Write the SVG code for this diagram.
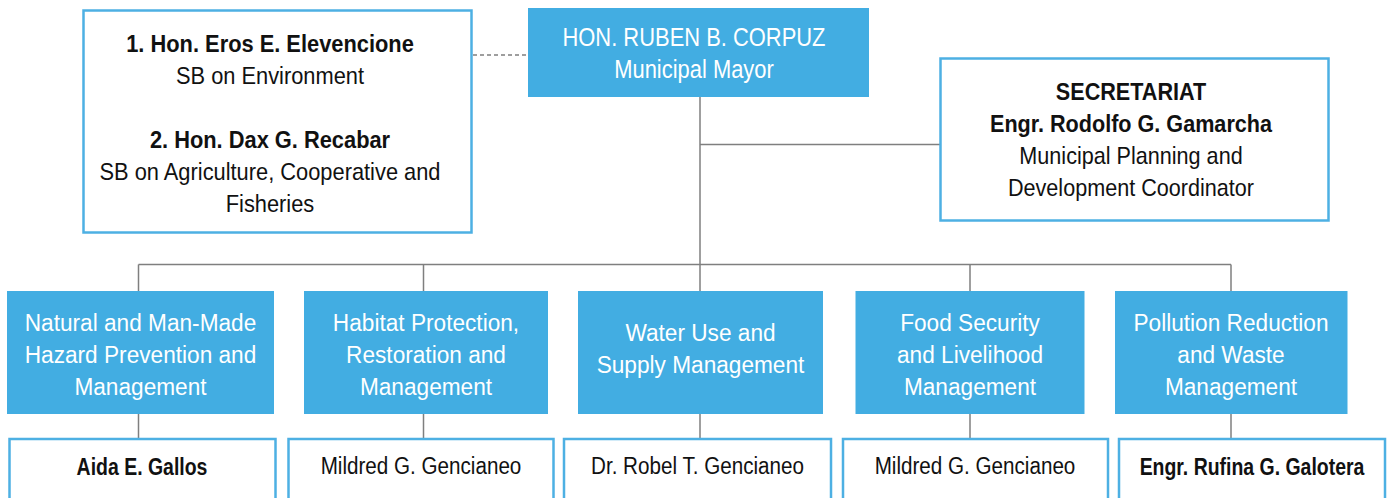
<svg xmlns="http://www.w3.org/2000/svg" width="1388" height="498" viewBox="0 0 1388 498">
<style>
text{font-family:"Liberation Sans",Arial,sans-serif;text-anchor:middle}
.fill{fill:#42ADE2}
.outline{fill:#FFFFFF;stroke:#4DB0E3;stroke-width:2.5}
.w{fill:#FFFFFF}
.k{fill:#111111}
.b{font-weight:bold}
.sm{font-size:25.5px}
.st{font-size:24px}
.sc{font-size:24.5px}
.sb{font-size:23.3px}
.conn line{stroke:#7F7F7F;stroke-width:1.5;fill:none}
.conn .dash{stroke-dasharray:4 3}
</style>
<rect width="1388" height="498" fill="#FFFFFF"/>
<g class="conn" id="connectors">
<line class="dash" x1="473" y1="55" x2="528" y2="55"/>
<line x1="700" y1="97" x2="700" y2="291"/>
<line x1="700" y1="144.5" x2="940" y2="144.5"/>
<line x1="138.5" y1="264.5" x2="1231" y2="264.5"/>
<line x1="138.5" y1="264.5" x2="138.5" y2="291"/>
<line x1="423.5" y1="264.5" x2="423.5" y2="291"/>
<line x1="970" y1="264.5" x2="970" y2="291"/>
<line x1="1231" y1="264.5" x2="1231" y2="291"/>
<line x1="138.5" y1="414" x2="138.5" y2="438"/>
<line x1="423.5" y1="414" x2="423.5" y2="438"/>
<line x1="700" y1="414" x2="700" y2="438"/>
<line x1="970" y1="414" x2="970" y2="438"/>
<line x1="1231" y1="414" x2="1231" y2="438"/>
</g>
<g id="mayor">
<rect class="fill" x="528" y="8" width="341" height="89"/>
<text class="w sm" transform="translate(694 45.5) scale(0.86 1)">HON. RUBEN B. CORPUZ</text>
<text class="w sm" transform="translate(694 77.5) scale(0.86 1)">Municipal Mayor</text>
</g>
<g id="sb-members">
<rect class="outline" x="83.5" y="10.5" width="388" height="222"/>
<text class="k st b" transform="translate(270 51.5) scale(0.91 1)">1. Hon. Eros E. Elevencione</text>
<text class="k st" transform="translate(270 84) scale(0.91 1)">SB on Environment</text>
<text class="k st b" transform="translate(270 148) scale(0.91 1)">2. Hon. Dax G. Recabar</text>
<text class="k st" transform="translate(270 180) scale(0.91 1)">SB on Agriculture, Cooperative and</text>
<text class="k st" transform="translate(270 211.5) scale(0.91 1)">Fisheries</text>
</g>
<g id="secretariat">
<rect class="outline" x="940.5" y="58.5" width="388" height="162"/>
<text class="k st b" transform="translate(1131 100) scale(0.9 1)">SECRETARIAT</text>
<text class="k st b" transform="translate(1131 131.5) scale(0.9 1)">Engr. Rodolfo G. Gamarcha</text>
<text class="k st" transform="translate(1131 163.5) scale(0.9 1)">Municipal Planning and</text>
<text class="k st" transform="translate(1131 195.5) scale(0.9 1)">Development Coordinator</text>
</g>
<g id="hazard">
<rect class="fill" x="7" y="291" width="267" height="123"/>
<text class="w sc" transform="translate(140.5 331) scale(0.925 1)">Natural and Man-Made</text>
<text class="w sc" transform="translate(140.5 363) scale(0.925 1)">Hazard Prevention and</text>
<text class="w sc" transform="translate(140.5 395) scale(0.925 1)">Management</text>
</g>
<g id="habitat">
<rect class="fill" x="304" y="291" width="244" height="123"/>
<text class="w sc" transform="translate(426 331) scale(0.925 1)">Habitat Protection,</text>
<text class="w sc" transform="translate(426 363) scale(0.925 1)">Restoration and</text>
<text class="w sc" transform="translate(426 395) scale(0.925 1)">Management</text>
</g>
<g id="water">
<rect class="fill" x="578" y="291" width="245" height="123"/>
<text class="w sc" transform="translate(700.5 341) scale(0.925 1)">Water Use and</text>
<text class="w sc" transform="translate(700.5 373) scale(0.925 1)">Supply Management</text>
</g>
<g id="food">
<rect class="fill" x="855.5" y="291" width="229" height="123"/>
<text class="w sc" transform="translate(970 331) scale(0.925 1)">Food Security</text>
<text class="w sc" transform="translate(970 363) scale(0.925 1)">and Livelihood</text>
<text class="w sc" transform="translate(970 395) scale(0.925 1)">Management</text>
</g>
<g id="pollution">
<rect class="fill" x="1115" y="291" width="232.5" height="123"/>
<text class="w sc" transform="translate(1231 331) scale(0.925 1)">Pollution Reduction</text>
<text class="w sc" transform="translate(1231 363) scale(0.925 1)">and Waste</text>
<text class="w sc" transform="translate(1231 395) scale(0.925 1)">Management</text>
</g>
<g id="head-hazard">
<rect class="outline" x="9.5" y="439" width="266" height="70"/>
<text class="k sb b" transform="translate(142 475) scale(0.835 1)">Aida E. Gallos</text>
</g>
<g id="head-habitat">
<rect class="outline" x="288.5" y="439" width="265" height="70"/>
<text class="k sb" transform="translate(421 474) scale(0.886 1)">Mildred G. Gencianeo</text>
</g>
<g id="head-water">
<rect class="outline" x="564" y="439" width="267" height="70"/>
<text class="k sb" transform="translate(697.5 474) scale(0.886 1)">Dr. Robel T. Gencianeo</text>
</g>
<g id="head-food">
<rect class="outline" x="843" y="439" width="265" height="70"/>
<text class="k sb" transform="translate(975 474) scale(0.886 1)">Mildred G. Gencianeo</text>
</g>
<g id="head-pollution">
<rect class="outline" x="1119" y="439" width="266" height="70"/>
<text class="k sb b" transform="translate(1252 475) scale(0.835 1)">Engr. Rufina G. Galotera</text>
</g>
</svg>
